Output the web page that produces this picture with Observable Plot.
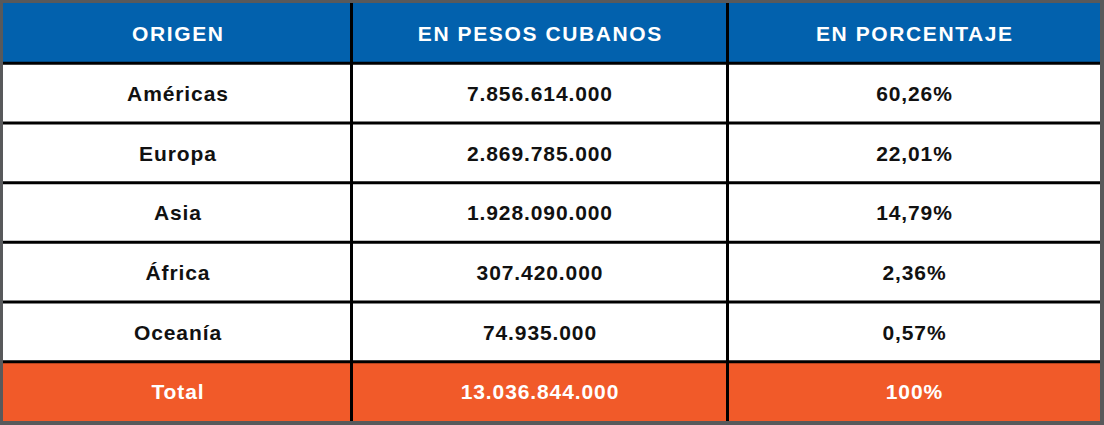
<!DOCTYPE html>
<html>
<head>
<meta charset="utf-8">
<script src="https://cdn.jsdelivr.net/npm/d3@7"></script>
<script src="https://cdn.jsdelivr.net/npm/@observablehq/plot@0.6"></script>
<style>
  html, body { margin: 0; padding: 0; background: #58595b; }
  #chart svg { display: block; }
</style>
</head>
<body>
<div id="chart"></div>
<script>
// ---- data ----
const headers = ["ORIGEN", "EN PESOS CUBANOS", "EN PORCENTAJE"];
const origins = ["Américas", "Europa", "Asia", "África", "Oceanía"];
const pesos = [7856614000, 2869785000, 1928090000, 307420000, 74935000];
const percentages = [60.26, 22.01, 14.79, 2.36, 0.57];
const totalLabel = "Total";
const totalPesos = 13036844000;
const totalPercent = 100;

// ---- layout (table geometry, not data) ----
const W = 1104, H = 425;
const tableLeft = 3, tableTop = 3, tableBottom = 421;
const columnWidths = [348, 376, 373];
const colEdges = columnWidths.reduce((a, w) => (a.push(a[a.length - 1] + w), a), [tableLeft]);
const nRows = origins.length + 2;
const rowHeight = (tableBottom - tableTop) / nRows;
const rowEdges = d3.range(nRows + 1).map(i => tableTop + i * rowHeight);
const fills = {header: "#0261ad", body: "#ffffff", total: "#f15a29"};
const textColors = {header: "#ffffff", body: "#111111", total: "#ffffff"};
const spacing = {header: 1.6, body: 0.9, total: 0.9};

// ---- formatting (Spanish style) ----
const es = d3.formatLocale({decimal: ",", thousands: ".", grouping: [3], currency: ["", " $"]});
const fmtInt = es.format(",d");
const fmtPct = v => (Number.isInteger(v) ? es.format("d")(v) : es.format(",.2f")(v)) + "%";

const rows = [
  {kind: "header", texts: headers},
  ...origins.map((o, i) => ({kind: "body", texts: [o, fmtInt(pesos[i]), fmtPct(percentages[i])]})),
  {kind: "total", texts: [totalLabel, fmtInt(totalPesos), fmtPct(totalPercent)]}
];

const cells = rows.flatMap((r, ri) => r.texts.map((t, ci) => ({
  kind: r.kind, text: t,
  x1: colEdges[ci], x2: colEdges[ci + 1],
  y1: rowEdges[ri], y2: rowEdges[ri + 1]
})));

const font = "'Liberation Sans', Arial, Helvetica, sans-serif";

const chart = Plot.plot({
  width: W,
  height: H,
  margin: 0,
  x: {type: "linear", domain: [0, W], range: [0, W], axis: null},
  y: {type: "linear", domain: [0, H], range: [0, H], axis: null},
  color: {type: "identity"},
  style: {background: "#58595b", fontFamily: font},
  marks: [
    Plot.rect(cells, {x1: "x1", x2: "x2", y1: "y1", y2: "y2", fill: d => fills[d.kind]}),
    Plot.ruleX(colEdges.slice(1, -1), {x: d => d, y1: rowEdges[0], y2: rowEdges[rowEdges.length - 1], stroke: "#000", strokeWidth: 3}),
    Plot.ruleY(rowEdges.slice(1, -1), {y: d => d, x1: colEdges[0], x2: colEdges[colEdges.length - 1], stroke: "#000", strokeWidth: 3}),
    Plot.text(cells, {
      x: d => (d.x1 + d.x2) / 2 + spacing[d.kind] / 2, y: d => (d.y1 + d.y2) / 2, text: "text",
      fill: d => textColors[d.kind], fontSize: 21, fontWeight: "bold", fontFamily: font,
      dy: 1
    })
  ]
});
// apply letter spacing per text (header wider tracking)
chart.querySelectorAll("text").forEach(t => {
  const kind = headers.includes(t.textContent) ? "header" : "body";
  t.style.letterSpacing = spacing[kind] + "px";
});
document.getElementById("chart").append(chart);
</script>
</body>
</html>
